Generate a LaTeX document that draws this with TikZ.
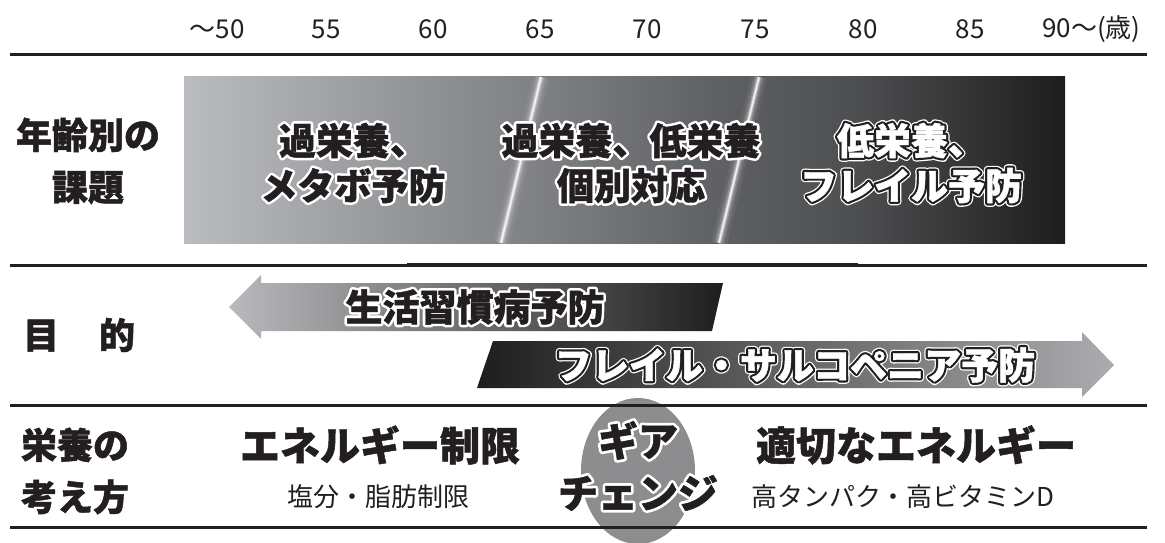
\documentclass[tikz,border=0pt]{standalone}
\usepackage{fontspec}
\setmainfont{Noto Sans CJK JP}
\newfontfamily\jp{Noto Sans CJK JP}[BoldFeatures={FakeBold=1.2}]
\newfontfamily\jpOutA{Noto Sans CJK JP}[BoldFeatures={FakeBold=15}]
\newfontfamily\jpOutB{Noto Sans CJK JP}[BoldFeatures={FakeBold=13}]
\newfontfamily\jpOutC{Noto Sans CJK JP}[BoldFeatures={FakeBold=20}]
\usetikzlibrary{shapes.geometric}
\definecolor{ink}{HTML}{231F20}
\definecolor{gA}{HTML}{BBBCBF}
\definecolor{gB}{HTML}{949598}
\definecolor{gC}{HTML}{7C7D80}
\definecolor{gD}{HTML}{626366}
\definecolor{gE}{HTML}{4D4E50}
\definecolor{gF}{HTML}{1F1D1E}
\definecolor{arLight}{HTML}{B9BABD}
\definecolor{arLight2}{HTML}{ABACAF}
\definecolor{gearg}{HTML}{8D8D90}
\pgfdeclarehorizontalshading{boxshade}{100bp}{color(0bp)=(gA); color(25bp)=(gA); color(37.65bp)=(gB); color(46.3bp)=(gC); color(54.3bp)=(gD); color(63.25bp)=(gE); color(75bp)=(gF); color(100bp)=(gF)}
% black text with white outline
\newcommand{\bkw}[1]{\pgfsetroundjoin\rlap{\jpOutA\bfseries\color{white}#1}{\color{ink}#1}}
% white text with black outline and thin white rim
\newcommand{\wtb}[1]{\pgfsetroundjoin\rlap{\jpOutC\bfseries\color{white}#1}\rlap{\jpOutB\bfseries\color{ink}#1}{\color{white}#1}}
\tikzset{
  axislbl/.style={font=\jp\fontsize{26}{30}\selectfont, text=ink, inner sep=0pt},
  rowlbl/.style={font=\jp\bfseries\fontsize{36}{52}\selectfont, text=ink, align=center, inner sep=0pt},
  boxtxt/.style={font=\jp\bfseries\fontsize{37}{45}\selectfont, align=center, inner sep=0pt},
  arrtxt/.style={font=\jp\bfseries\fontsize{37}{45}\selectfont, inner sep=0pt},
  bigtxt/.style={font=\jp\bfseries\fontsize{40}{48}\selectfont, text=ink, inner sep=0pt},
  subtxt/.style={font=\jp\fontsize{26}{30}\selectfont, text=ink, inner sep=0pt},
  rule/.style={draw=ink, line width=3pt},
  glint/.style={draw=white, line cap=butt}
}
\begin{document}
\begin{tikzpicture}[x=1pt,y=-1pt]
\fill[white] (0,0) rectangle (1165,543);
\useasboundingbox (0,0) rectangle (1165,543);

% age axis
\node[axislbl] (a50) at (217,29) {～50};
\node[axislbl] (a55) at (326,29) {55};
\node[axislbl] (a60) at (433,29) {60};
\node[axislbl] (a65) at (540,29) {65};
\node[axislbl] (a70) at (647,29) {70};
\node[axislbl] (a75) at (755,29) {75};
\node[axislbl] (a80) at (863,29) {80};
\node[axislbl] (a85) at (970,29) {85};
\node[axislbl,anchor=west] (a90) at (1042,29) {90～(歳)};

% gradient band
\path[shading=boxshade] (184,77) rectangle (1065,243);
\begin{scope}
  \clip (184,77) rectangle (1065,243);
  \foreach \w/\o in {16/0.06, 10/0.12, 6/0.22, 3.2/0.45, 1.4/0.8} {
    \draw[glint, line width=\w pt, opacity=\o] (541,77) -- (501,243);
    \draw[glint, line width=\w pt, opacity=\o] (759,77) -- (719,243);
  }
\end{scope}

% purpose arrows
\path[left color=arLight, right color=gF]
  (229,307) -- (261,275) -- (261,283) -- (723,283) -- (712,331) -- (261,331) -- (261,339) -- cycle;
\path[left color=gF, right color=arLight2]
  (493,341) -- (1082,341) -- (1082,332) -- (1114,365) -- (1082,397) -- (1082,388) -- (477,388) -- cycle;

% gear change ellipse
\node[ellipse, fill=gearg, minimum width=114pt, minimum height=146pt, inner sep=0pt] (gear) at (638,471) {};

% rules
\draw[rule] (10,55) -- (1147,55);
\draw[rule] (10,265) -- (1147,265);
\draw[draw=ink, line width=4pt] (407,265) -- (858,265);
\draw[rule] (10,405) -- (1147,405);
\draw[rule] (10,527) -- (1147,527);

% row labels
\node[rowlbl] (r1) at (88,161) {年齢別の\\課題};
\node[rowlbl] (r2) at (79,335) {目\hspace{40pt}的};
\node[rowlbl] (r3) at (75,471) {栄養の\\考え方};

% band texts
\node[boxtxt] (b1) at (353,163) {\bkw{過栄養、}\\\bkw{メタボ予防}};
\node[boxtxt] (b2) at (631,163) {\bkw{過栄養、低栄養}\\\bkw{個別対応}};
\node[boxtxt] (b3) at (911,163) {\wtb{低栄養、}\\\wtb{フレイル予防}};

% arrow texts
\node[arrtxt] (p1) at (475,307) {\bkw{生活習慣病予防}};
\node[arrtxt] (p2) at (795,365) {\wtb{フレイル・サルコペニア予防}};

% nutrition row
\node[bigtxt] (n1) at (380,445) {エネルギー制限};
\node[subtxt] (n1s) at (378,497) {塩分・脂肪制限};
\node[bigtxt] (n2) at (916,445) {適切なエネルギー};
\node[subtxt] (n2s) at (903,497) {高タンパク・高ビタミンD};
\node[font=\jp\bfseries\fontsize{40}{52}\selectfont, align=center, inner sep=0pt] (gtxt) at (638,466) {\bkw{ギア}\\\bkw{チェンジ}};
\end{tikzpicture}
\end{document}
